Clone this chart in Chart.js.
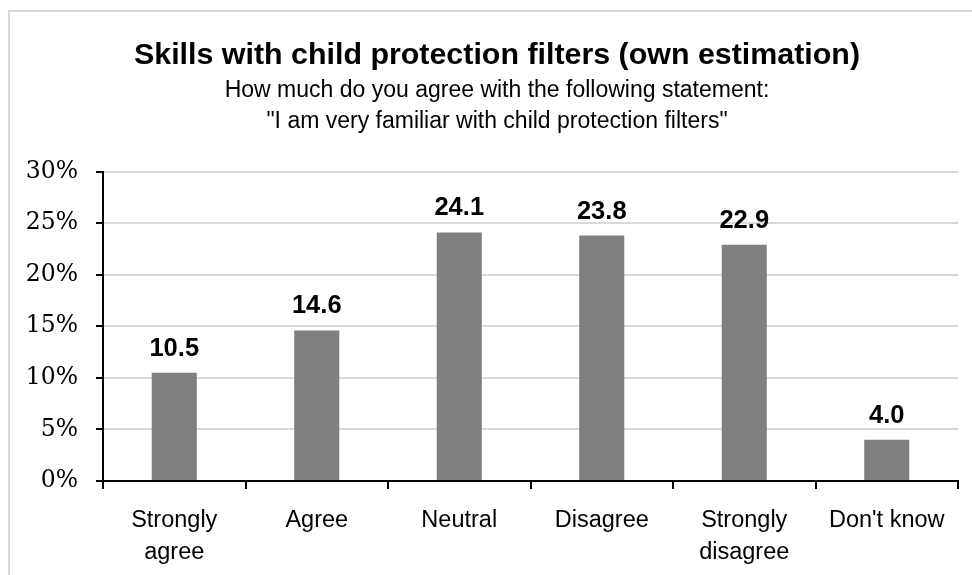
<!DOCTYPE html>
<html>
<head>
<meta charset="utf-8">
<script src="https://cdn.jsdelivr.net/npm/chart.js@4"></script>
<style>
  html, body { margin: 0; padding: 0; background: #fff; overflow: hidden; }
  #wrap { position: relative; width: 972px; height: 575px; }
  #frame { position: absolute; left: 8px; top: 10px; width: 1000px; height: 600px; border: 2px solid #d9d9d9; box-sizing: border-box; }
  canvas { position: absolute; left: 0; top: 0; }
</style>
</head>
<body>
<div id="wrap">
  <div id="frame"></div>
  <canvas id="skillsChart" width="972" height="575"></canvas>
</div>
<script>
// answers and shares (%)
const categories = [["Strongly", "agree"], "Agree", "Neutral", "Disagree", ["Strongly", "disagree"], "Don't know"];
const shares = [10.5, 14.6, 24.1, 23.8, 22.9, 4.0];
const yTicks = [0, 5, 10, 15, 20, 25, 30];

// value labels above each bar
const barLabels = {
  id: 'barLabels',
  afterLayout(chart) {
    // let the y tick labels use the space left of the padding (else they get clipped)
    chart.scales.y.left = 0;
  },
  afterDatasetsDraw(chart) {
    const ctx = chart.ctx;
    const meta = chart.getDatasetMeta(0);
    ctx.save();
    ctx.font = 'bold 25.5px "Liberation Sans", Arial, sans-serif';
    ctx.fillStyle = '#000';
    ctx.textAlign = 'center';
    ctx.textBaseline = 'alphabetic';
    meta.data.forEach((bar, i) => {
      ctx.fillText(shares[i].toFixed(1), bar.x, bar.y - 17);
    });
    ctx.restore();
  }
};

let ctx = document.getElementById('skillsChart').getContext('2d');
let skillsChart = new Chart(ctx, {
  type: 'bar',
  data: {
    labels: categories,
    datasets: [{
      data: shares,
      backgroundColor: '#7f7f7f',
      barPercentage: 0.316,
      categoryPercentage: 1
    }]
  },
  options: {
    responsive: false,
    animation: false,
    // left padding shifts the titles' centre to the right like the original
    layout: { padding: { top: 0, right: 14, bottom: 0, left: 36 } },
    plugins: {
      legend: { display: false },
      tooltip: { enabled: false },
      title: {
        display: true,
        text: 'Skills with child protection filters (own estimation)',
        color: '#000',
        font: { family: '"Liberation Sans", Arial, sans-serif', size: 30.4, weight: 'bold', lineHeight: 1.2 },
        padding: { top: 37, bottom: 0 }
      },
      subtitle: {
        display: true,
        text: ['How much do you agree with the following statement:', '"I am very familiar with child protection filters"'],
        color: '#000',
        font: { family: '"Liberation Sans", Arial, sans-serif', size: 23, lineHeight: 1.35 },
        padding: { top: 1.5, bottom: 34.5 }
      }
    },
    scales: {
      x: {
        afterFit: scale => { scale.height = 94; },
        grid: { display: true, drawOnChartArea: false, offset: true, color: '#000', tickLength: 8, lineWidth: 2 },
        border: { color: '#000', width: 2 },
        ticks: {
          color: '#000',
          padding: 16,
          maxRotation: 0,
          autoSkip: false,
          font: { family: '"Liberation Sans", Arial, sans-serif', size: 23.5, lineHeight: 1.35 }
        }
      },
      y: {
        min: 0,
        max: 30,
        afterFit: scale => { scale.width = 67; },
        afterBuildTicks: scale => { scale.ticks = yTicks.map(v => ({ value: v })); },
        grid: { color: '#d9d9d9', lineWidth: 2, tickColor: '#000', tickLength: 7 },
        border: { color: '#000', width: 2 },
        ticks: {
          color: '#000',
          padding: 18,
          font: { family: '"DejaVu Serif", serif', size: 23.5 },
          callback: v => v + '%'
        }
      }
    }
  },
  plugins: [barLabels]
});
</script>
</body>
</html>
